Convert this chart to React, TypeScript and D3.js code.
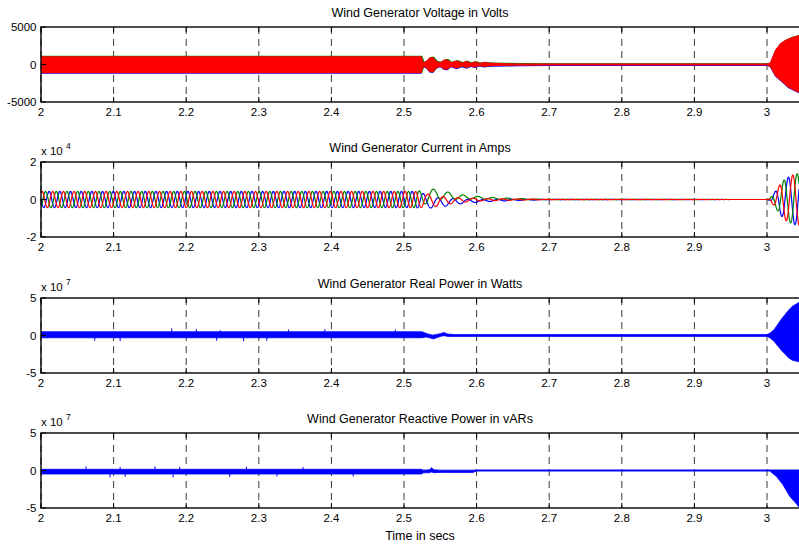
import React from "react";
import * as d3 from "d3";

// ---------- layout ----------
const W = 799;
const H = 547;
const AX_LEFT = 41;
const AX_RIGHT = 799;
const PX_PER_TENTH = 72.6;
const PANEL_TOPS = [27, 162, 298, 433];
const PANEL_H = 75;

// ---------- axes text ----------
const timeTicks = [2, 2.1, 2.2, 2.3, 2.4, 2.5, 2.6, 2.7, 2.8, 2.9, 3];
const timeTickLabels = ["2", "2.1", "2.2", "2.3", "2.4", "2.5", "2.6", "2.7", "2.8", "2.9", "3"];
const panelTitles = [
  "Wind Generator Voltage in Volts",
  "Wind Generator Current in Amps",
  "Wind Generator Real Power in Watts",
  "Wind Generator Reactive Power in vARs",
];
const yDomains = [[-5000, 5000], [-2e4, 2e4], [-5e7, 5e7], [-5e7, 5e7]];
const yTickValues = [[-5000, 0, 5000], [-2e4, 0, 2e4], [-5e7, 0, 5e7], [-5e7, 0, 5e7]];
const yTickLabels = [["-5000", "0", "5000"], ["-2", "0", "2"], ["-5", "0", "5"], ["-5", "0", "5"]];
const yExponents = ["", "4", "7", "7"];
const xAxisLabel = "Time in secs";

// ---------- voltage envelope (V) ----------
const voltT = [2.0, 2.524, 2.527, 2.531, 2.535, 2.54, 2.545, 2.55, 2.555, 2.56, 2.565, 2.5725, 2.58, 2.586, 2.592, 2.598, 2.604, 2.61, 2.62, 2.64, 2.66, 2.7, 3.0, 3.004, 3.011, 3.018, 3.024, 3.029, 3.036, 3.044];
const voltUpper = [1100, 1100, 300, 500, 950, 1000, 450, 300, 650, 680, 300, 540, 280, 470, 250, 400, 200, 330, 220, 180, 150, 120, 120, 250, 1900, 2800, 3200, 3450, 3700, 3900];
const voltLower = [-1150, -1150, -300, -500, -1000, -1050, -450, -300, -650, -680, -300, -540, -280, -470, -250, -400, -200, -330, -220, -180, -150, -120, -120, -250, -1500, -2100, -2600, -3050, -3400, -3750];

// ---------- current (A) ----------
const currT = [2.0, 2.515, 2.525, 2.535, 2.545, 2.555, 2.565, 2.58, 2.6, 2.62, 2.65, 2.68, 2.7, 3.0, 3.004, 3.01, 3.018, 3.025, 3.035, 3.044];
const currAmp = [4300, 4300, 4000, 3200, 2800, 2200, 1700, 1200, 700, 500, 350, 200, 80, 0, 500, 3500, 8000, 11000, 13000, 14000];
const currOffsetRed = [0, 0, -200, -500, -900, -700, -500, -300, -100, -100, -50, 0, 0, 0, 0, 0, 0, 0, 0, 0];
const currOffsetGreen = [0, 0, 800, 2000, 3000, 2400, 1800, 1300, 1000, 600, 300, 100, 0, 0, 0, 0, 0, 0, 0, 0];
const currOffsetBlue = [0, 0, -600, -1300, -1800, -1500, -1200, -1000, -800, -500, -250, -100, 0, 0, 0, 0, 0, 0, 0, 0];
const freqT = [2.0, 2.52, 2.53, 3.0, 3.044];
const freqHz = [68, 68, 48, 55, 55];

// ---------- real power (W) ----------
const pT = [2.0, 2.525, 2.53, 2.535, 2.54, 2.545, 2.55, 2.555, 2.56, 2.57, 3.0, 3.004, 3.01, 3.015, 3.02, 3.025, 3.03, 3.035, 3.044];
const pUpper = [0.5e7, 0.5e7, 0.3e7, 0.15e7, 0.05e7, 0.15e7, 0.25e7, 0.4e7, 0.2e7, 0.12e7, 0.12e7, 0.3e7, 0.8e7, 1.5e7, 2.2e7, 2.8e7, 3.4e7, 3.9e7, 4.4e7];
const pLower = [-0.3e7, -0.3e7, -0.2e7, -0.3e7, -0.45e7, -0.3e7, -0.12e7, -0.02e7, -0.12e7, -0.12e7, -0.12e7, -0.3e7, -0.8e7, -1.4e7, -2.0e7, -2.5e7, -3.0e7, -3.3e7, -3.5e7];
const pSpikeT = [2.074, 2.109, 2.18, 2.214, 2.242, 2.247, 2.279, 2.311, 2.341, 2.391, 2.488];
const pSpikeV = [-0.7e7, -0.75e7, 0.95e7, 0.85e7, -0.7e7, 0.7e7, -0.75e7, -0.7e7, 0.8e7, 0.85e7, 0.8e7];

// ---------- reactive power (vAR) ----------
const qT = [2.0, 2.524, 2.527, 2.535, 2.538, 2.541, 2.55, 2.595, 2.6, 3.0, 3.004, 3.013, 3.022, 3.031, 3.041, 3.044];
const qUpper = [0.16e7, 0.16e7, 0.05e7, 0.1e7, 0.37e7, 0.1e7, 0.05e7, 0.05e7, 0.08e7, 0.08e7, 0.08e7, 0.08e7, 0.08e7, 0.08e7, 0.08e7, 0.08e7];
const qLower = [-0.47e7, -0.47e7, -0.3e7, -0.3e7, -0.2e7, -0.3e7, -0.25e7, -0.25e7, -0.08e7, -0.08e7, -0.08e7, -0.8e7, -1.9e7, -3.4e7, -4.5e7, -4.9e7];
const qSpikeT = [2.062, 2.095, 2.109, 2.116, 2.157, 2.182, 2.191, 2.26, 2.283, 2.325, 2.361, 2.43];
const qSpikeV = [0.55e7, -0.9e7, 0.5e7, -0.85e7, 0.55e7, -0.9e7, 0.5e7, -0.85e7, 0.5e7, -0.8e7, 0.45e7, -0.8e7];

const BLUE = "#0000ff";
const GREEN = "#008000";
const RED = "#ff0000";
const FONT = "'Liberation Sans', Arial, Helvetica, sans-serif";

export default function App() {
  const tEnd = 2 + ((AX_RIGHT - AX_LEFT) / PX_PER_TENTH) * 0.1;
  const x = d3.scaleLinear().domain([2, tEnd]).range([AX_LEFT, AX_RIGHT]);
  const ys = yDomains.map((dom, i) =>
    d3.scaleLinear().domain(dom).range([PANEL_TOPS[i] + PANEL_H, PANEL_TOPS[i]])
  );

  // voltage bands
  const vIdx = d3.range(voltT.length);
  const vArea = d3
    .area<number>()
    .x((i) => x(voltT[i]))
    .y0((i) => ys[0](voltLower[i]))
    .y1((i) => ys[0](voltUpper[i]));

  // current waveforms
  const ampS = d3.scaleLinear().domain(currT).range(currAmp).clamp(true);
  const offR = d3.scaleLinear().domain(currT).range(currOffsetRed).clamp(true);
  const offG = d3.scaleLinear().domain(currT).range(currOffsetGreen).clamp(true);
  const offB = d3.scaleLinear().domain(currT).range(currOffsetBlue).clamp(true);
  const fS = d3.scaleLinear().domain(freqT).range(freqHz).clamp(true);
  const dt = 0.0002;
  const ts = d3.range(2, tEnd + dt, dt);
  const phis: number[] = [];
  let phi = -0.6;
  for (const t of ts) {
    phis.push(phi);
    phi += 2 * Math.PI * fS(t) * dt;
  }
  const mk = (off: (t: number) => number, shift: number) =>
    ts.map((t, i) => [t, off(t) + ampS(t) * Math.cos(phis[i] + shift)] as [number, number]);
  const cLine = d3
    .line<[number, number]>()
    .x((d) => x(d[0]))
    .y((d) => ys[1](d[1]));
  const redC = mk(offR, 0);
  const greenC = mk(offG, (-2 * Math.PI) / 3);
  const blueC = mk(offB, (2 * Math.PI) / 3);

  // power bands
  const pIdx = d3.range(pT.length);
  const pArea = d3
    .area<number>()
    .x((i) => x(pT[i]))
    .y0((i) => ys[2](pLower[i]))
    .y1((i) => ys[2](pUpper[i]));
  const qIdx = d3.range(qT.length);
  const qArea = d3
    .area<number>()
    .x((i) => x(qT[i]))
    .y0((i) => ys[3](qLower[i]))
    .y1((i) => ys[3](qUpper[i]));

  return (
    <div style={{ position: "absolute", left: 0, top: 0 }}>
      <svg width={W} height={H} style={{ display: "block", background: "#fff" }} fontFamily={FONT}>
        <defs>
          {PANEL_TOPS.map((top, i) => (
            <clipPath id={`clip${i}`} key={i}>
              <rect x={AX_LEFT} y={top} width={AX_RIGHT - AX_LEFT} height={PANEL_H} />
            </clipPath>
          ))}
        </defs>
        {PANEL_TOPS.map((top, i) => {
          const bottom = top + PANEL_H;
          return (
            <g key={i}>
              {timeTicks.map((t) => (
                <line
                  key={t}
                  x1={x(t)}
                  x2={x(t)}
                  y1={top}
                  y2={bottom}
                  stroke="#3a3a3a"
                  strokeWidth={1}
                  strokeDasharray="7,5"
                />
              ))}
              <g clipPath={`url(#clip${i})`}>
                {i === 0 && (
                  <g>
                    <path d={vArea(vIdx) || ""} fill={BLUE} transform="translate(0,0.6)" />
                    <path d={vArea(vIdx) || ""} fill={GREEN} transform="translate(0.8,-0.4)" />
                    <path d={vArea(vIdx) || ""} fill={RED} />
                  </g>
                )}
                {i === 1 && (
                  <g fill="none" strokeWidth={1.2}>
                    <path d={cLine(blueC) || ""} stroke={BLUE} />
                    <path d={cLine(greenC) || ""} stroke={GREEN} />
                    <path d={cLine(redC) || ""} stroke={RED} />
                  </g>
                )}
                {i === 2 && (
                  <g>
                    <path d={pArea(pIdx) || ""} fill={BLUE} stroke={BLUE} strokeWidth={0.8} />
                    {pSpikeT.map((t, k) => (
                      <line key={k} x1={x(t)} x2={x(t)} y1={ys[2](0)} y2={ys[2](pSpikeV[k])} stroke={BLUE} strokeWidth={1} />
                    ))}
                  </g>
                )}
                {i === 3 && (
                  <g>
                    <path d={qArea(qIdx) || ""} fill={BLUE} stroke={BLUE} strokeWidth={0.8} />
                    {qSpikeT.map((t, k) => (
                      <line key={k} x1={x(t)} x2={x(t)} y1={ys[3](-0.15e7)} y2={ys[3](qSpikeV[k])} stroke={BLUE} strokeWidth={1} />
                    ))}
                  </g>
                )}
              </g>
              {timeTicks.map((t) => (
                <g key={`t${t}`} stroke="#000" strokeWidth={1}>
                  <line x1={x(t)} x2={x(t)} y1={bottom} y2={bottom - 5} />
                  <line x1={x(t)} x2={x(t)} y1={top} y2={top + 5} />
                </g>
              ))}
              {yTickValues[i].map((v) => (
                <line key={`y${v}`} x1={AX_LEFT} x2={AX_LEFT + 5} y1={ys[i](v)} y2={ys[i](v)} stroke="#000" />
              ))}
              <rect
                x={AX_LEFT}
                y={top}
                width={AX_RIGHT - AX_LEFT + 2}
                height={PANEL_H}
                fill="none"
                stroke="#000"
                strokeWidth={1.4}
              />
              {timeTicks.map((t, k) => (
                <text key={`l${t}`} x={x(t)} y={bottom + 14} fontSize={11.5} textAnchor="middle" fill="#000">
                  {timeTickLabels[k]}
                </text>
              ))}
              {yTickValues[i].map((v, k) => (
                <text key={`yl${v}`} x={36.5} y={ys[i](v) + 4} fontSize={11.5} textAnchor="end" fill="#000">
                  {yTickLabels[i][k]}
                </text>
              ))}
              {yExponents[i] && (
                <g>
                  <text x={41} y={top - 7} fontSize={11.5} fill="#000">
                    x 10
                  </text>
                  <text x={66} y={top - 13.5} fontSize={8.5} fill="#000">
                    {yExponents[i]}
                  </text>
                </g>
              )}
              <text x={(AX_LEFT + AX_RIGHT) / 2} y={top - 10.5} fontSize={12.5} textAnchor="middle" fill="#000">
                {panelTitles[i]}
              </text>
            </g>
          );
        })}
        <text x={(AX_LEFT + AX_RIGHT) / 2} y={540} fontSize={12.5} textAnchor="middle" fill="#000">
          {xAxisLabel}
        </text>
      </svg>
    </div>
  );
}
